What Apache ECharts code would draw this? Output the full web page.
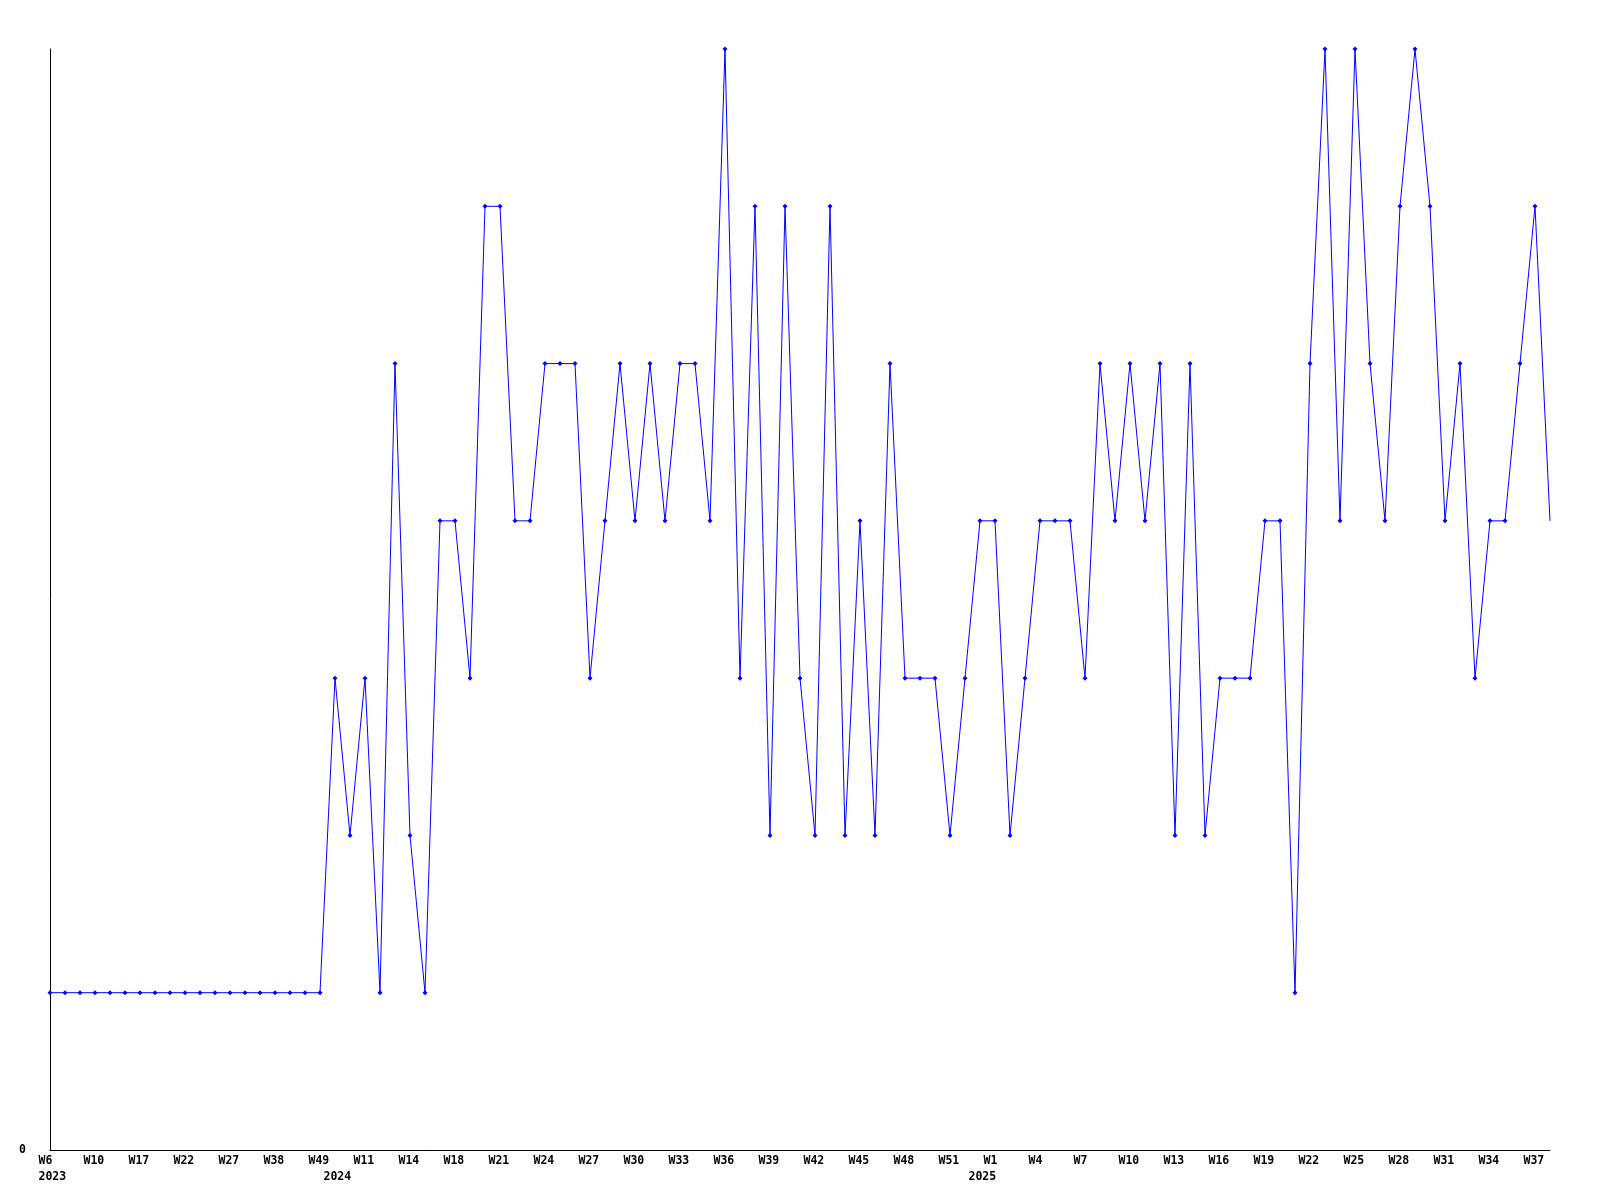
<!DOCTYPE html>
<html>
<head>
<meta charset="utf-8">
<script src="https://cdn.jsdelivr.net/npm/echarts@6/dist/echarts.min.js"></script>
<style>
html,body{margin:0;padding:0;background:#fff;}
#chart{width:1600px;height:1200px;}
</style>
</head>
<body>
<div id="chart"></div>
<script>
// Week categories (101 points)
const weeks = [
  'W6','W7','W8','W10','W12','W14','W17','W19','W20','W22','W24','W25','W27','W31','W35','W38','W42','W45','W49',
  'W9','W10','W11','W12','W13','W14','W15','W16','W18','W19','W20','W21','W22','W23','W24','W25','W26','W27','W28','W29','W30',
  'W31','W32','W33','W34','W35','W36','W37','W38','W39','W40','W41','W42','W43','W44','W45','W46','W47','W48','W49','W50',
  'W51','W52','W0',
  'W1','W2','W3','W4','W5','W6','W7','W8','W9','W10','W11','W12','W13','W14','W15','W16','W17','W18','W19','W20','W21','W22',
  'W23','W24','W25','W26','W27','W28','W29','W30','W31','W32','W33','W34','W35','W36','W37','W38'
];
// Year labels shown under the axis at these category positions
const yearLabels = { 0: '2023', 19: '2024', 62: '2025' };
// Values
const values = [
  1,1,1,1,1,1,1,1,1,1,1,1,1,1,1,1,1,1,1,
  3,2,3,1,5,2,1,4,4,3,6,6,4,4,5,5,5,3,4,5,
  4,5,4,5,5,4,7,3,6,2,6,3,2,6,2,4,2,5,3,3,
  3,2,3,4,4,2,3,4,4,4,3,5,4,5,4,5,2,5,2,3,
  3,3,4,4,1,5,7,4,7,5,4,6,7,6,4,5,3,4,4,5,
  6,4
];
const labelEvery = 3;

const chart = echarts.init(document.getElementById('chart'));
const font = 'DejaVu Sans Mono';
const seriesData = values.map((v, i) => i === values.length - 1 ? { value: v, symbol: 'none' } : v);

chart.setOption({
  backgroundColor: '#ffffff',
  animation: false,
  grid: { left: 50, right: 50, top: 49, bottom: 50, containLabel: false },
  xAxis: {
    type: 'category',
    data: weeks,
    boundaryGap: false,
    axisLine: { show: true, lineStyle: { color: '#000', width: 1 } },
    axisTick: { show: false },
    splitLine: { show: false },
    axisLabel: {
      interval: (idx) => idx % labelEvery === 0 || yearLabels[idx] !== undefined,
      margin: 3,
      color: '#000',
      fontFamily: font,
      fontWeight: 'bold',
      fontSize: 11.5,
      lineHeight: 16,
      formatter: (val, idx) => {
        const top = idx % labelEvery === 0 ? val : ' ';
        const yr = yearLabels[idx];
        return '{a|' + top + '}' + (yr ? '\n{a|' + yr + '}' : '');
      },
      rich: {
        a: { width: 23, align: 'left', fontFamily: font, fontWeight: 'bold', fontSize: 11.5, lineHeight: 16, color: '#000' }
      }
    }
  },
  yAxis: {
    type: 'value',
    min: 0,
    max: 7,
    interval: 7,
    axisLine: { show: true, lineStyle: { color: '#000', width: 1 } },
    axisTick: { show: false },
    splitLine: { show: false },
    axisLabel: {
      margin: 24,
      color: '#000',
      fontFamily: font,
      fontWeight: 'bold',
      fontSize: 11.5,
      formatter: (v) => v === 0 ? '0' : ''
    }
  },
  series: [{
    type: 'line',
    data: seriesData,
    symbol: 'diamond',
    symbolSize: 5,
    showAllSymbol: true,
    lineStyle: { color: '#0000ff', width: 1 },
    itemStyle: { color: '#0000ff' },
    emphasis: { disabled: true }
  }]
});
</script>
</body>
</html>
